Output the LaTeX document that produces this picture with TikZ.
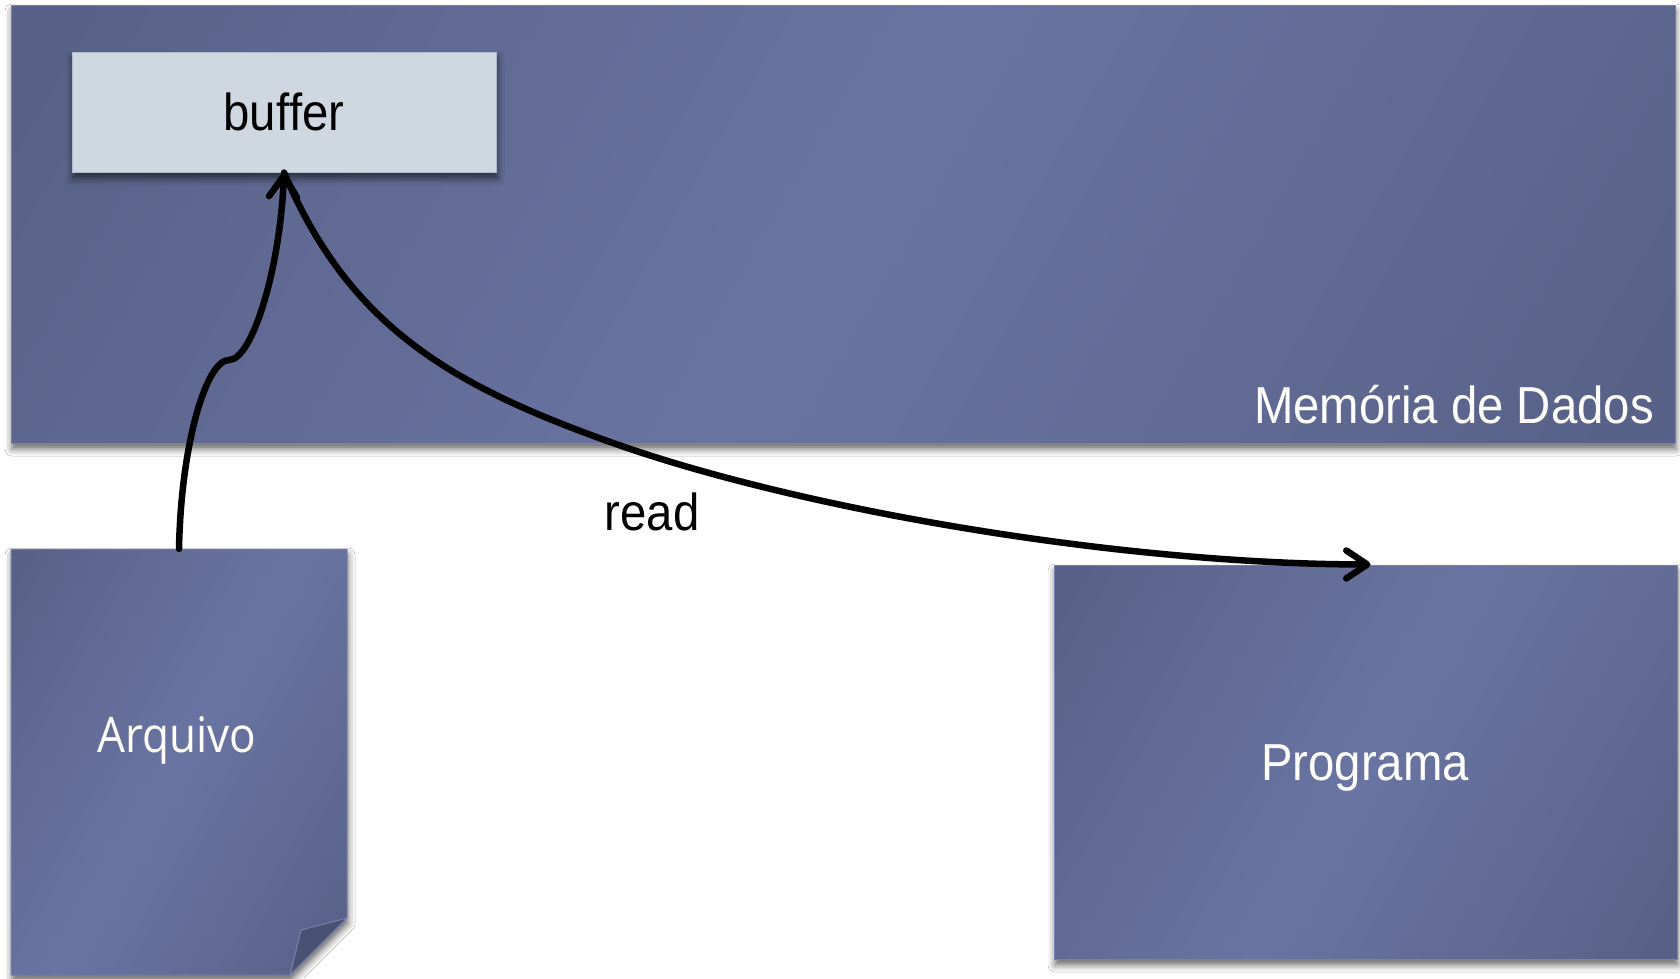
\documentclass[tikz,border=0pt]{standalone}
\usepackage{fontspec}
\setmainfont{Liberation Sans}[FakeStretch=0.91, Ligatures=NoCommon]
\newfontfamily\arqfont{Open Sans}[FakeStretch=0.9]
\usetikzlibrary{arrows.meta,shadows.blur}
\definecolor{kdark}{RGB}{88,98,136}
\definecolor{klight}{RGB}{106,116,162}
\definecolor{bufffill}{RGB}{207,215,224}
\definecolor{foldc}{RGB}{74,82,115}
\definecolor{edgec}{RGB}{118,128,178}
\pgfdeclarehorizontalshading{kshade}{100bp}{color(0bp)=(kdark); color(18bp)=(kdark); color(50bp)=(klight); color(82bp)=(kdark); color(100bp)=(kdark)}
\tikzset{
  softshadow/.style={blur shadow={shadow xshift=1pt, shadow yshift=-6pt, shadow blur radius=7pt, shadow opacity=60}},
  panel/.style={shading=kshade, shading angle=-30, draw=edgec, line width=1pt, softshadow},
  bufbox/.style={fill=bufffill, draw=bufffill!75!kdark, line width=1pt, softshadow, inner sep=0pt,
    text=black, font=\fontsize{52}{62}\selectfont},
  lbl/.style={text=white, inner sep=0pt, font=\fontsize{52}{62}\selectfont},
  conn/.style={draw=black, line width=6.5pt, line cap=round, line join=round,
    -{Straight Barb[length=21pt, width=28pt, line cap=round, line join=round]}},
}
\begin{document}
\begin{tikzpicture}[x=1pt, y=-1pt]
\useasboundingbox (0,0) rectangle (1680,978);
\fill[white] (0,0) rectangle (1680,978);

% Memory region
\node[panel, inner sep=0pt, minimum width=1664pt, minimum height=438pt] (mem) at (843,224) {};
\node[lbl, anchor=base east] (memtxt) at (1654,423) {Memória de Dados};

% Buffer
\node[bufbox, minimum width=424pt, minimum height=120pt] (buf) at (284,112) {buf\kern0pt fer};

% Programa
\node[panel, inner sep=0pt, minimum width=623pt, minimum height=394pt] (prog) at (1365.5,762) {};
\node[lbl, anchor=base] (progtxt) at (1365,780) {Programa};

% Arquivo (document with folded corner)
\path[panel] (11,549) -- (347,549) -- (347,918) -- (290,975) -- (11,975) -- cycle;
\path[fill=foldc, draw=edgec, line width=1pt, line join=round] (347,918) -- (301,930) -- (290,975) -- cycle;
\node[inner sep=0pt, minimum width=336pt, minimum height=426pt] (arq) at (179,762) {};
\node[lbl, anchor=base, font=\arqfont\fontsize{49}{58}\selectfont] (arqtxt) at (177,752) {Arquivo};

% Connectors
\draw[conn] (arq.north) .. controls (181,445) and (206,360) .. (229,360)
  .. controls (252,360) and (280,270) .. (buf.south);
\draw[conn] (buf.south) .. controls (350,328) and (453,386) .. (613,443)
  .. controls (802,510) and (1120,564) .. ([xshift=5pt]prog.north);
\node[inner sep=0pt, text=black, anchor=base, font=\fontsize{52}{62}\selectfont] (readtxt) at (652,530) {read};
\end{tikzpicture}
\end{document}
